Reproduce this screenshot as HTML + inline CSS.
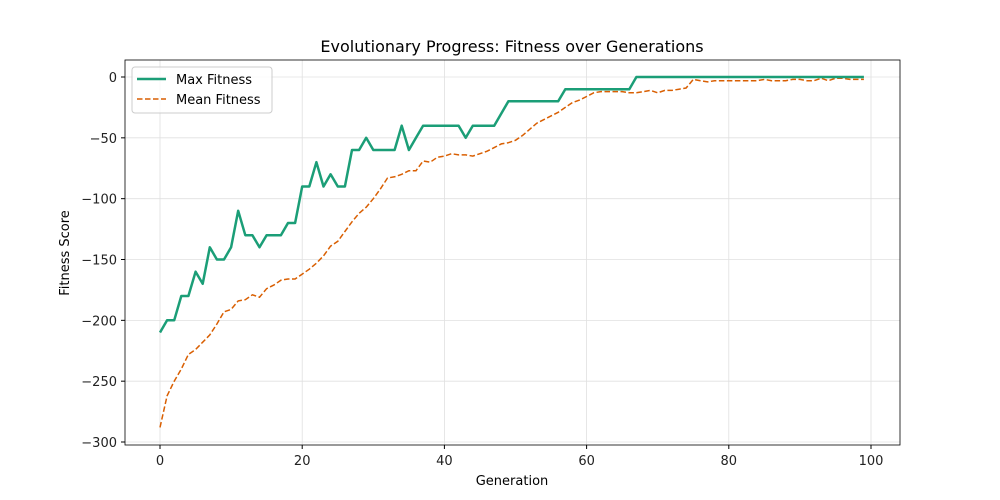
<!DOCTYPE html>
<html><head><meta charset="utf-8"><style>body{margin:0;background:#fff}svg{display:block;font-family:"DejaVu Sans","Liberation Sans",sans-serif}</style></head>
<body><svg id="s" width="1000" height="500" xmlns="http://www.w3.org/2000/svg">
<rect width="1000" height="500" fill="#fff"/>
<g id="grid" stroke="#e0e0e0" stroke-width="0.8"></g>
<g id="lines"></g>
<rect x="125" y="60" width="775" height="385" fill="none" stroke="#000" stroke-width="0.8"/>
<g id="ticks" font-size="13" fill="#222"></g>
<text x="512" y="52" text-anchor="middle" font-size="16" fill="#000">Evolutionary Progress: Fitness over Generations</text>
<text x="512" y="485" text-anchor="middle" font-size="13" fill="#000">Generation</text>
<text transform="translate(69,253) rotate(-90)" text-anchor="middle" font-size="13" fill="#000">Fitness Score</text>
<rect x="132" y="67" width="140" height="46" rx="3" fill="#fff" fill-opacity="0.8" stroke="#ccc"/>
<line x1="137" y1="79" x2="166" y2="79" stroke="#1b9e77" stroke-width="2.5"/>
<text x="176" y="84" font-size="13" fill="#000">Max Fitness</text>
<line x1="137" y1="99" x2="166" y2="99" stroke="#d95f02" stroke-width="1.5" stroke-dasharray="5.5,2.5"/>
<text x="176" y="104" font-size="13" fill="#000">Mean Fitness</text>
</svg>
<script>
var NS="http://www.w3.org/2000/svg";
function X(g){return 160+g*7.11}function Y(v){return 77-v*1.2167}
function el(p,t,a,txt){var e=document.createElementNS(NS,t);for(var k in a)e.setAttribute(k,a[k]);if(txt!=null)e.textContent=txt;document.getElementById(p).appendChild(e);return e}
for(var g=0;g<=100;g+=20){el("grid","line",{x1:X(g),x2:X(g),y1:60,y2:445});el("ticks","line",{x1:X(g),x2:X(g),y1:445,y2:449,stroke:"#000"});el("ticks","text",{x:X(g),y:465,"text-anchor":"middle"},g)}
for(var v=0;v>=-300;v-=50){el("grid","line",{x1:125,x2:900,y1:Y(v),y2:Y(v)});el("ticks","line",{x1:121,x2:125,y1:Y(v),y2:Y(v),stroke:"#000"});el("ticks","text",{x:117,y:Y(v)+5,"text-anchor":"end"},v==0?"0":"\u2212"+(-v))}
var mx=[-210,-200,-200,-180,-180,-160,-170,-140,-150,-150,-140,-110,-130,-130,-140,-130,-130,-130,-120,-120,-90,-90,-70,-90,-80,-90,-90,-60,-60,-50,-60,-60,-60,-60,-40,-60,-50,-40,-40,-40,-40,-40,-40,-50,-40,-40,-40,-40,-30,-20,-20,-20,-20,-20,-20,-20,-20,-10,-10,-10,-10,-10,-10,-10,-10,-10,-10,0];
while(mx.length<100)mx.push(0);
var mn=[-288,-262,-250,-240,-228,-224,-218,-212,-203,-193,-191,-184,-183,-179,-181,-174,-171,-167,-166,-166,-162,-158,-153,-147,-139,-135,-127,-119,-112,-107,-100,-92,-83,-82,-80,-77,-77,-69,-70,-66,-65,-63,-64,-64,-65,-63,-61,-58,-55,-54,-52,-48,-43,-38,-35,-32,-29,-25,-21,-19,-16,-13,-12,-12,-12,-12,-13,-13,-12,-11,-13,-11,-11,-10,-9,-2,-3,-4,-3,-3,-3,-3,-3,-3,-3,-2,-3,-3,-3,-2,-2,-3,-3,-1,-3,-1,-1,-2,-2,-2];
function pts(a){return a.map(function(v,i){return X(i).toFixed(1)+","+Y(v).toFixed(1)}).join(" ")}
el("lines","polyline",{points:pts(mn),fill:"none",stroke:"#d95f02","stroke-width":1.5,"stroke-dasharray":"5.5,2.5"});
el("lines","polyline",{points:pts(mx),fill:"none",stroke:"#1b9e77","stroke-width":2.5,"stroke-linejoin":"round"});
</script>
</body></html>
